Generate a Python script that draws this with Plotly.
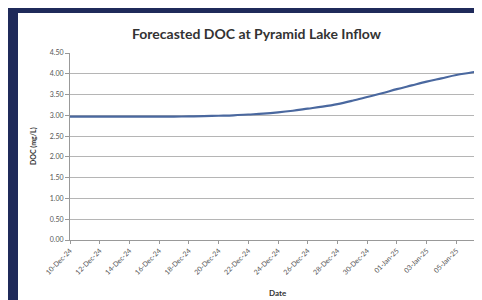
import plotly.graph_objects as go

dates = ["2024-12-10", "2024-12-11", "2024-12-12", "2024-12-13", "2024-12-14",
         "2024-12-15", "2024-12-16", "2024-12-17", "2024-12-18", "2024-12-19",
         "2024-12-20", "2024-12-21", "2024-12-22", "2024-12-23", "2024-12-24",
         "2024-12-25", "2024-12-26", "2024-12-27", "2024-12-28", "2024-12-29",
         "2024-12-30", "2024-12-31", "2025-01-01", "2025-01-02", "2025-01-03",
         "2025-01-04", "2025-01-05", "2025-01-06", "2025-01-06 14:00"]
doc = [2.97, 2.97, 2.97, 2.97, 2.97, 2.97, 2.97, 2.97, 2.975, 2.98,
       2.99, 3.00, 3.02, 3.04, 3.07, 3.11, 3.16, 3.21, 3.27, 3.35,
       3.44, 3.53, 3.63, 3.72, 3.81, 3.89, 3.97, 4.03, 4.07]

x_ticks = ["2024-12-10", "2024-12-12", "2024-12-14", "2024-12-16", "2024-12-18",
           "2024-12-20", "2024-12-22", "2024-12-24", "2024-12-26", "2024-12-28",
           "2024-12-30", "2025-01-01", "2025-01-03", "2025-01-05"]
x_tick_text = ["10-Dec-24", "12-Dec-24", "14-Dec-24", "16-Dec-24", "18-Dec-24",
               "20-Dec-24", "22-Dec-24", "24-Dec-24", "26-Dec-24", "28-Dec-24",
               "30-Dec-24", "01-Jan-25", "03-Jan-25", "05-Jan-25"]

y_ticks = [0, 0.5, 1, 1.5, 2, 2.5, 3, 3.5, 4, 4.5]
y_tick_text = ["0.00", "0.50", "1.00", "1.50", "2.00", "2.50", "3.00", "3.50", "4.00", "4.50"]

NAVY = "#1f2a5a"
FONT = "Lato"

fig = go.Figure()
fig.add_trace(go.Scatter(
    x=dates, y=doc, mode="lines",
    line=dict(color="#4a689f", width=2.2, shape="spline"),
    showlegend=False, hoverinfo="skip",
))

# plot area geometry in px
L, R, T, B = 62, 478, 45, 232
W, H = 482, 300
pw, ph = R - L, B - T

def px2x(px):
    return (px - L) / pw

def py2y(py):
    return (B - py) / ph

fig.update_layout(
    width=W, height=H,
    margin=dict(l=L, r=W - R, t=T, b=H - B, pad=0),
    paper_bgcolor=NAVY,
    plot_bgcolor="white",
    font=dict(family=FONT, color="#444444", size=7),
    shapes=[dict(type="rect", xref="paper", yref="paper", layer="below",
                 x0=px2x(10), x1=px2x(477), y0=py2y(297), y1=py2y(5),
                 fillcolor="white", line=dict(width=0))],
    annotations=[
        dict(text="<b>Forecasted DOC at Pyramid Lake Inflow</b>", xref="paper", yref="paper",
             x=px2x(249), y=py2y(25), showarrow=False, xanchor="center", yanchor="middle",
             font=dict(family=FONT, size=14, color="#333333")),
        dict(text="<b>DOC (mg/L)</b>", xref="paper", yref="paper", textangle=-90,
             x=px2x(25), y=py2y(138), showarrow=False, xanchor="center", yanchor="middle",
             font=dict(family=FONT, size=7, color="#333333")),
        dict(text="<b>Date</b>", xref="paper", yref="paper",
             x=px2x(270), y=py2y(285), showarrow=False, xanchor="center", yanchor="middle",
             font=dict(family=FONT, size=8, color="#333333")),
    ],
)

fig.update_xaxes(
    type="date", range=["2024-12-10", "2025-01-07"],
    tickvals=x_ticks, ticktext=x_tick_text,
    tickangle=-45, ticks="outside", ticklen=3, tickcolor="#999999",
    showline=True, linecolor="#999999", linewidth=1,
    showgrid=False, zeroline=False,
    tickfont=dict(family=FONT, size=7, color="#555555"),
)
fig.update_yaxes(
    range=[0, 4.5], tickvals=y_ticks, ticktext=y_tick_text,
    ticks="outside", ticklen=4, tickcolor="#999999",
    showline=True, linecolor="#999999", linewidth=1,
    showgrid=True, gridcolor="#b5b5b5", gridwidth=1, zeroline=False,
    tickfont=dict(family=FONT, size=7, color="#555555"),
)

fig.write_html("out.html")
